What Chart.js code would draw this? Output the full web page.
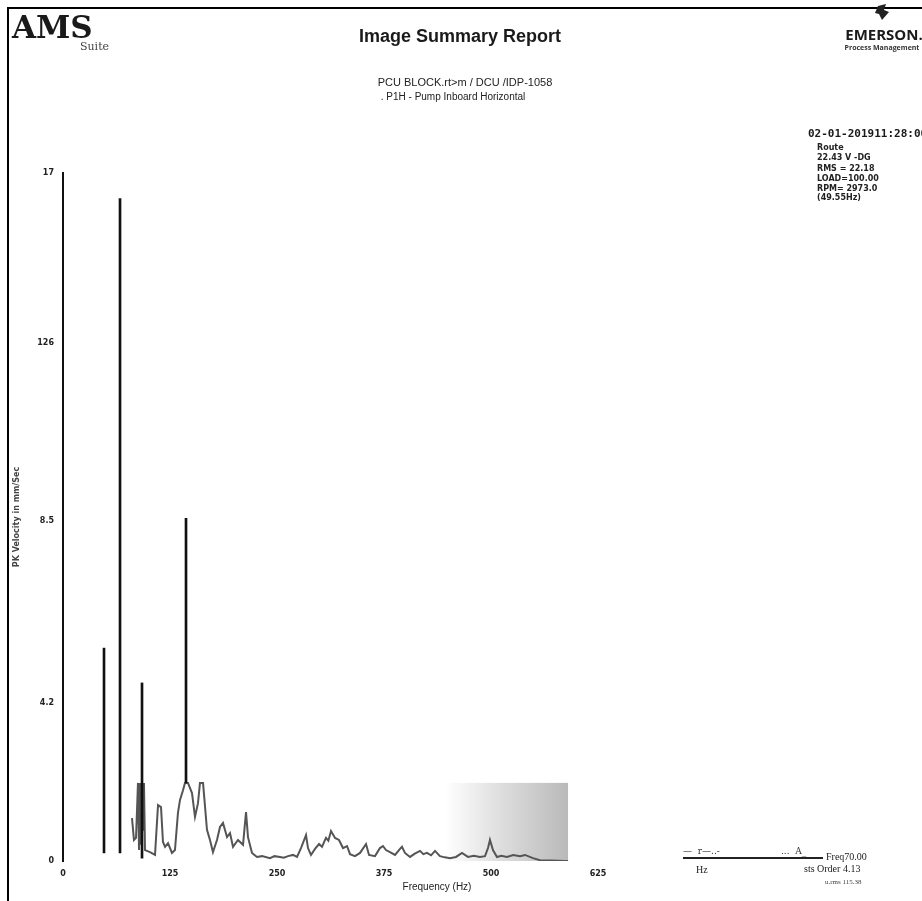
<!DOCTYPE html>
<html>
<head>
<meta charset="utf-8">
<title>Image Summary Report</title>
<script src="https://cdn.jsdelivr.net/npm/chart.js@4.4.1/dist/chart.umd.min.js"></script>
<style>
  html, body { margin: 0; padding: 0; background: #fff; }
  canvas { display: block; }
</style>
</head>
<body>
<canvas id="myChart" width="922" height="901"></canvas>
<script>
// spectrum trace (Hz / amplitude)
var specHz = [80.6, 82.9, 85.3, 87.6, 88.8, 90.0, 91.1, 92.3, 93.5, 94.6, 95.8, 101.6, 107.5,
  111.0, 114.5, 116.8, 119.2, 122.7, 127.3, 130.8, 134.3, 136.7, 140.2, 142.5, 146.0, 150.7,
  154.2, 157.7, 160.0, 163.6, 168.2, 171.7, 175.2, 179.9, 183.4, 186.9, 191.6, 195.1, 198.6,
  204.4, 210.3, 213.8, 216.1, 220.8, 226.6, 232.5, 241.8, 247.0, 253.5, 258.0, 262.9, 268.7,
  273.4, 278.0, 283.9, 286.2, 289.7, 294.4, 299.1, 302.6, 307.2, 310.0, 313.1, 317.8, 322.4,
  327.1, 331.8, 335.3, 341.1, 347.0, 354.0, 357.5, 364.5, 370.3, 373.8, 377.3, 382.0, 387.9,
  393.7, 396.0, 399.5, 405.4, 411.0, 417.1, 421.0, 425.2, 430.0, 434.6, 440.4, 446.0, 452.1,
  459.1, 466.1, 473.1, 480.0, 487.1, 493.0, 496.5, 498.8, 502.3, 507.0, 512.0, 518.7, 526.0,
  533.9, 539.7, 549.1, 557.2, 570.0, 586.4, 590.0];
var specAmp = [1.06, 0.52, 0.57, 1.93, 0.27, 1.93, 0.40, 1.93, 0.77, 1.93, 0.27, 0.22, 0.15,
  1.38, 1.33, 0.47, 0.35, 0.44, 0.20, 0.27, 1.19, 1.51, 1.75, 1.93, 1.93, 1.68,
  1.09, 1.43, 1.93, 1.93, 0.77, 0.52, 0.22, 0.52, 0.84, 0.94, 0.59, 0.69, 0.35,
  0.52, 0.40, 1.21, 0.59, 0.20, 0.10, 0.12, 0.07, 0.12, 0.10, 0.08, 0.12, 0.15,
  0.10, 0.32, 0.64, 0.32, 0.15, 0.30, 0.42, 0.35, 0.57, 0.50, 0.74, 0.57, 0.52,
  0.32, 0.37, 0.17, 0.12, 0.20, 0.42, 0.15, 0.12, 0.32, 0.37, 0.27, 0.22, 0.15,
  0.30, 0.35, 0.20, 0.10, 0.18, 0.25, 0.17, 0.20, 0.14, 0.25, 0.12, 0.09, 0.07,
  0.10, 0.20, 0.10, 0.13, 0.10, 0.12, 0.32, 0.52, 0.27, 0.10, 0.13, 0.10, 0.15,
  0.12, 0.15, 0.07, 0.02, 0.01, 0.00, 0.00];

// tall discrete peaks
var spikeHz = [47.9, 66.6, 92.3, 143.7];
var spikeLow = [0.20, 0.20, 0.07, 1.93];
var spikeHigh = [5.26, 16.37, 4.40, 8.47];

// axis ticks
var yTickVals = [0, 3.9, 8.4, 12.8, 17];
var yTickLabels = ['0', '4.2', '8.5', '126', '17'];
var xMax = 625;
var xStep = 125;

// shaded band at the high end
var bandFrom = 446;
var bandTo = 590;
var bandTop = 1.93;

var specPoints = specHz.map(function (h, i) { return { x: h, y: specAmp[i] }; });
var spikePoints = spikeHz.map(function (h, i) { return { x: h, y: [spikeLow[i], spikeHigh[i]] }; });

var bandPlugin = {
  id: 'band',
  beforeDatasetsDraw: function (chart) {
    var c = chart.ctx, xs = chart.scales.x, ys = chart.scales.y;
    var x0 = xs.getPixelForValue(bandFrom), x1 = xs.getPixelForValue(bandTo);
    var y0 = ys.getPixelForValue(bandTop), y1 = ys.getPixelForValue(0);
    var g = c.createLinearGradient(x0, 0, x1, 0);
    g.addColorStop(0, 'rgba(255,255,255,1)');
    g.addColorStop(0.45, 'rgba(222,222,222,1)');
    g.addColorStop(1, 'rgba(185,185,185,1)');
    c.save();
    c.fillStyle = g;
    c.fillRect(x0, y0, x1 - x0, y1 - y0);
    c.restore();
  }
};

function txt(c, s, x, y, font, color, align) {
  c.font = font;
  c.fillStyle = color || '#111';
  c.textAlign = align || 'left';
  c.textBaseline = 'alphabetic';
  c.fillText(s, x, y);
}

var pagePlugin = {
  id: 'page',
  afterDraw: function (chart) {
    var c = chart.ctx;
    c.save();
    // frame
    c.fillStyle = '#000';
    c.fillRect(7, 7, 2, 894);
    c.fillRect(7, 7, 915, 2);

    // header
    txt(c, 'AMS', 12, 38, 'bold 31px "DejaVu Serif"', '#1a1a1a');
    txt(c, 'Suite', 80, 50, '11px "DejaVu Serif"', '#444');
    txt(c, 'Image Summary Report', 460, 42, 'bold 18px "Liberation Sans"', '#1a1a1a', 'center');
    txt(c, 'PCU BLOCK.rt>m / DCU /IDP-1058', 465, 86, '11px "Liberation Sans Narrow", "Liberation Sans"', '#222', 'center');
    txt(c, '. P1H - Pump Inboard Horizontal', 453, 100, '10px "Liberation Sans Narrow", "Liberation Sans"', '#222', 'center');

    // emerson mark
    c.fillStyle = '#222';
    c.beginPath();
    c.moveTo(878, 6); c.lineTo(886, 4); c.lineTo(884, 10); c.lineTo(889, 12);
    c.lineTo(882, 20); c.lineTo(879, 14); c.lineTo(875, 13); c.closePath();
    c.fill();
    txt(c, 'EMERSON.', 884, 40, 'bold 15px "Open Sans"', '#1a1a1a', 'center');
    txt(c, 'Process Management', 882, 50, 'bold 7px "Open Sans"', '#333', 'center');

    // right info block
    txt(c, '02-01-201911:28:00', 808, 137, 'bold 11px "DejaVu Sans Mono"', '#1a1a1a');
    var info = ['Route', '22.43 V -DG', 'RMS = 22.18', 'LOAD=100.00', 'RPM= 2973.0', '(49.55Hz)'];
    var iy = [150, 160, 171, 181, 191, 200];
    for (var i = 0; i < info.length; i++) {
      txt(c, info[i], 817, iy[i], 'bold 8px "DejaVu Sans"', '#222');
    }

    // x axis title
    txt(c, 'Frequency (Hz)', 437, 890, '10px "Liberation Sans"', '#222', 'center');

    // cursor readout
    c.fillStyle = '#222';
    c.fillRect(683, 857, 140, 2);
    txt(c, '\u2014  r\u2014..-', 683, 854, '9px "DejaVu Serif"', '#333');
    txt(c, '...  A_', 781, 854, '9px "DejaVu Serif"', '#333');
    txt(c, 'Freq70.00', 826, 860, '10px "Liberation Serif"', '#222');
    txt(c, 'Hz', 696, 873, '10px "Liberation Serif"', '#222');
    txt(c, 'sts Order 4.13', 804, 872, '10px "Liberation Serif"', '#222');
    txt(c, 'u.rms 115.38', 825, 884, '7px "Liberation Serif"', '#444');
    c.restore();
  }
};

var ctx = document.getElementById('myChart').getContext('2d');

var myChart = new Chart(ctx, {
  type: 'bar',
  data: {
    datasets: [{
      type: 'line',
      data: specPoints,
      borderColor: '#555',
      borderWidth: 2,
      pointRadius: 0,
      tension: 0,
      fill: false,
      order: 2
    }, {
      type: 'bar',
      data: spikePoints,
      backgroundColor: '#111',
      barThickness: 2,
      grouped: false,
      order: 1
    }]
  },
  options: {
    responsive: false,
    devicePixelRatio: 1,
    animation: false,
    layout: { padding: { left: 10, top: 173, right: 324, bottom: 0 } },
    plugins: {
      legend: { display: false },
      tooltip: { enabled: false }
    },
    scales: {
      x: {
        type: 'linear',
        min: 0,
        max: xMax,
        offset: false,
        grid: { display: false, drawTicks: false },
        border: { display: false },
        ticks: {
          stepSize: xStep,
          padding: 8,
          maxRotation: 0,
          color: '#222',
          font: { size: 8, weight: 'bold', family: 'DejaVu Sans' }
        },
        afterFit: function (s) { s.height = 40; }
      },
      y: {
        min: 0,
        max: 17,
        grid: { display: false, drawTicks: false },
        border: { display: true, color: '#111', width: 2 },
        title: {
          display: true,
          text: 'PK Velocity in mm/Sec',
          color: '#444',
          padding: { top: 2, bottom: 0 },
          font: { size: 8, weight: 'bold', family: 'DejaVu Sans' }
        },
        afterBuildTicks: function (s) {
          s.ticks = yTickVals.map(function (v) { return { value: v }; });
        },
        ticks: {
          padding: 9,
          color: '#222',
          font: { size: 8, weight: 'bold', family: 'DejaVu Sans' },
          callback: function (v) {
            var i = yTickVals.indexOf(v);
            return i >= 0 ? yTickLabels[i] : '';
          }
        },
        afterFit: function (s) { s.width = 53; }
      }
    }
  },
  plugins: [bandPlugin, pagePlugin]
});
</script>
</body>
</html>
